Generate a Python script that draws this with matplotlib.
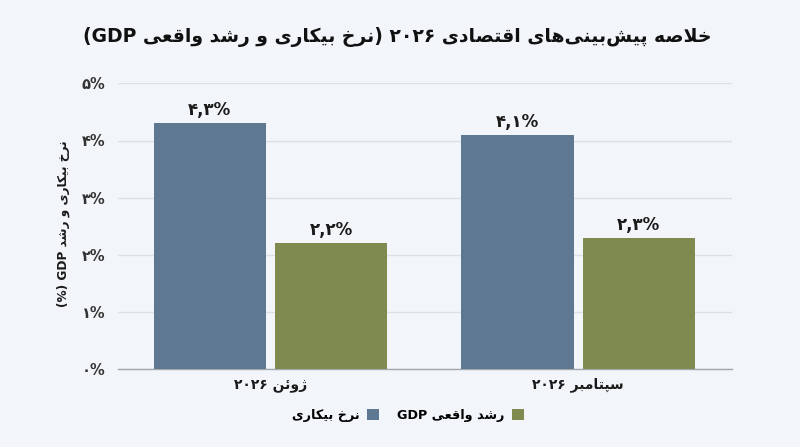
import matplotlib
matplotlib.use('Agg')
import matplotlib.pyplot as plt
import numpy as np
from matplotlib.patches import Patch

# ---------------- data ----------------
categories = ['ژوئن ۲۰۲۶', 'سپتامبر ۲۰۲۶']
series_names = ['نرخ بیکاری', 'رشد واقعی GDP']
unemployment = [4.3, 4.1]
gdp_growth = [2.2, 2.3]
yticks = [0, 1, 2, 3, 4, 5]
title = 'خلاصه پیش‌بینی‌های اقتصادی ۲۰۲۶ (نرخ بیکاری و رشد واقعی GDP)'
ylabel = 'نرخ بیکاری و رشد GDP (%)'

# ---------------- minimal Persian shaping + bidi ----------------
FORMS = {
    'ا': (0xFE8D, 0xFE8E, None, None),
    'ب': (0xFE8F, 0xFE90, 0xFE91, 0xFE92),
    'پ': (0xFB56, 0xFB57, 0xFB58, 0xFB59),
    'ت': (0xFE95, 0xFE96, 0xFE97, 0xFE98),
    'خ': (0xFEA5, 0xFEA6, 0xFEA7, 0xFEA8),
    'د': (0xFEA9, 0xFEAA, None, None),
    'ر': (0xFEAD, 0xFEAE, None, None),
    'ژ': (0xFB8A, 0xFB8B, None, None),
    'س': (0xFEB1, 0xFEB2, 0xFEB3, 0xFEB4),
    'ش': (0xFEB5, 0xFEB6, 0xFEB7, 0xFEB8),
    'ص': (0xFEB9, 0xFEBA, 0xFEBB, 0xFEBC),
    'ع': (0xFEC9, 0xFECA, 0xFECB, 0xFECC),
    'ق': (0xFED5, 0xFED6, 0xFED7, 0xFED8),
    'ک': (0xFB8E, 0xFB8F, 0xFB90, 0xFB91),
    'ل': (0xFEDD, 0xFEDE, 0xFEDF, 0xFEE0),
    'م': (0xFEE1, 0xFEE2, 0xFEE3, 0xFEE4),
    'ن': (0xFEE5, 0xFEE6, 0xFEE7, 0xFEE8),
    'ه': (0xFEE9, 0xFEEA, 0xFEEB, 0xFEEC),
    'و': (0xFEED, 0xFEEE, None, None),
    'ی': (0xFBFC, 0xFBFD, 0xFBFE, 0xFBFF),
    'ئ': (0xFE89, 0xFE8A, 0xFE8B, 0xFE8C),
}


def _dual(c):
    return c in FORMS and FORMS[c][2] is not None


def shape(s):
    out = []
    n = len(s)
    i = 0
    while i < n:
        c = s[i]
        if c not in FORMS:
            out.append(c)
            i += 1
            continue
        prev = s[i - 1] if i > 0 else ''
        cp = _dual(prev)
        if c == 'ل' and i + 1 < n and s[i + 1] == 'ا':
            out.append(chr(0xFEFC if cp else 0xFEFB))
            i += 2
            continue
        nxt = s[i + 1] if i + 1 < n else ''
        cn = _dual(c) and nxt in FORMS
        f = FORMS[c]
        if cp and cn:
            g = f[3]
        elif cp:
            g = f[1]
        elif cn:
            g = f[2]
        else:
            g = f[0]
        out.append(chr(g))
        i += 1
    return [ch for ch in out if ch != '\u200c']


def _is_rtl(ch):
    o = ord(ch)
    if 0x06F0 <= o <= 0x06F9 or 0x0660 <= o <= 0x0669:
        return False
    return (0x0600 <= o <= 0x06FF) or (0xFB50 <= o <= 0xFEFF)


MIRROR = {'(': ')', ')': '('}


def rtl(s):
    chars = shape(s)
    n = len(chars)
    t = []
    for ch in chars:
        if _is_rtl(ch):
            t.append('R')
        elif ch.isdigit():
            t.append('EN')
        elif ch.isalpha():
            t.append('L')
        else:
            t.append('N')
    for i in range(1, n - 1):
        if chars[i] in ',.٫' and t[i - 1] == 'EN' and t[i + 1] == 'EN':
            t[i] = 'EN'
    for i in range(n):
        if chars[i] == '%' and ((i > 0 and t[i - 1] == 'EN') or (i + 1 < n and t[i + 1] == 'EN')):
            t[i] = 'EN'
    res = list(t)
    i = 0
    while i < n:
        if t[i] == 'N':
            j = i
            while j < n and t[j] == 'N':
                j += 1
            b = t[i - 1] if i > 0 else 'R'
            a = t[j] if j < n else 'R'
            b = 'R' if b in ('R', 'EN') else 'L'
            a = 'R' if a in ('R', 'EN') else 'L'
            d = 'L' if (a == 'L' and b == 'L') else 'R'
            for k in range(i, j):
                res[k] = d
            i = j
        else:
            i += 1
    items = []
    for ch, r in zip(chars, res):
        if r == 'R':
            items.append((MIRROR.get(ch, ch), 1))
        else:
            items.append((ch, 2))
    items = items[::-1]
    out = []
    i = 0
    while i < len(items):
        if items[i][1] == 2:
            j = i
            while j < len(items) and items[j][1] == 2:
                j += 1
            out.extend([c for c, _ in items[i:j]][::-1])
            i = j
        else:
            out.append(items[i][0])
            i += 1
    return ''.join(out)


FA_DIG = str.maketrans('0123456789', '۰۱۲۳۴۵۶۷۸۹')


def fa_num(v, dec=True):
    s = f'{v:.1f}'.replace('.', ',') if dec else f'{v:d}'
    return s.translate(FA_DIG) + '%'


# ---------------- plot ----------------
plt.rcParams['font.family'] = ['DejaVu Sans']
plt.rcParams['font.weight'] = 'bold'

BG = '#f2f5f9'
BLUE = '#5f7891'
GREEN = '#7e8a50'

fig = plt.figure(figsize=(8, 4.47), dpi=100, facecolor=BG)
ax = fig.add_axes([118 / 800, 1 - 369.3 / 447, (732 - 118) / 800, (369.3 - 83.3) / 447])
ax.set_facecolor(BG)

x = np.arange(len(categories))
w = 0.365
off = 0.197
ax.bar(x - off, unemployment, w, color=BLUE, zorder=3)
ax.bar(x + off, gdp_growth, w, color=GREEN, zorder=3)

for xs, vals in ((x - off, unemployment), (x + off, gdp_growth)):
    for xi, v in zip(xs, vals):
        ax.annotate(rtl(fa_num(v)), (xi, v), xytext=(0, 3), textcoords='offset points',
                    ha='center', va='bottom', fontsize=12, fontweight='bold', color='#1a1a1a')

ax.set_xlim(-0.495, 1.5)
ax.set_ylim(0, 5)
ax.set_xticks(x)
ax.set_xticklabels([rtl(c) for c in categories], fontsize=10, fontweight='bold', color='#1a1a1a')
ax.set_yticks(yticks)
ax.set_yticklabels([rtl(fa_num(v, dec=False)) for v in yticks], fontsize=10.5, fontweight='bold', color='#333333')
ax.tick_params(axis='both', length=0)
ax.tick_params(axis='y', pad=9)
ax.tick_params(axis='x', pad=6)
ax.yaxis.grid(True, color='#dcdfe4', linewidth=1, zorder=0)
ax.set_axisbelow(True)
for sp in ('top', 'right', 'left'):
    ax.spines[sp].set_visible(False)
ax.spines['bottom'].set_color('#a3a8ad')
ax.spines['bottom'].set_linewidth(1)

fig.text(397 / 800, 1 - 37 / 447, rtl(title), ha='center', va='center', fontsize=13.5,
         fontweight='bold', color='#111111')
fig.text(63 / 800, 1 - 224 / 447, rtl(ylabel), ha='center', va='center', rotation=90,
         fontsize=8.7, fontweight='bold', color='#1a1a1a')

handles = [Patch(facecolor=BLUE), Patch(facecolor=GREEN)]
fig.legend(handles, [rtl(n) for n in series_names], loc='center', bbox_to_anchor=(408 / 800, 1 - 415 / 447),
           ncol=2, frameon=False, markerfirst=False, handlelength=0.95, handleheight=0.95,
           handletextpad=0.6, columnspacing=1.4, prop={'size': 9.2, 'weight': 'bold'})

fig.savefig('out.png', dpi=100, facecolor=BG)
